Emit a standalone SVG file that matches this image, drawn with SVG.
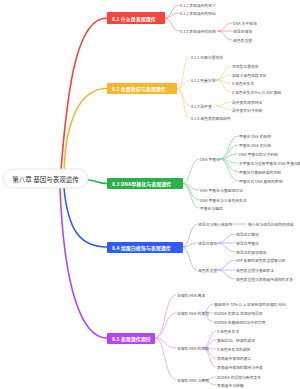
<svg xmlns="http://www.w3.org/2000/svg" width="300" height="389" viewBox="0 0 300 389">
<style>
.main{fill:none;stroke-width:1.6;stroke-linecap:round}
.sub{fill:none;stroke-width:0.8;stroke-linecap:round}
.nt{font-family:"Noto Sans CJK SC","Noto Sans",sans-serif;font-size:5px;font-weight:bold;fill:#fff;dominant-baseline:central}
.t{font-family:"Noto Sans CJK SC","Noto Sans",sans-serif;font-size:3.8px;fill:#555;dominant-baseline:central}
.root{font-family:"Noto Sans CJK SC","Noto Sans",sans-serif;font-size:6.5px;fill:#333;dominant-baseline:central}
.r{stroke:#f2453b}.o{stroke:#f8b62d}.g{stroke:#2ab049}.b{stroke:#2f5cf5}.p{stroke:#b247f0}
.rl{stroke:#f7968f}.ol{stroke:#fbd58a}.gl{stroke:#8fd99b}.bl{stroke:#9fb5fa}.pl{stroke:#dba5f7}
</style>
<g id="connectors">
<path class="main r" d="M61,170 C68,80 78,18 107,18"/>
<path class="main o" d="M64,170 C66,120 80,88.5 107,88.5"/>
<path class="main g" d="M88,180 C96,180 98,183.5 107,183.5"/>
<path class="main b" d="M64,188 C68,230 80,247 107,247"/>
<path class="main p" d="M60,188 C64,290 82,338 107,338"/>
<path class="sub rl" d="M165,18 C172,18 171,5 179,5"/>
<path class="sub rl" d="M165,18 C172,18 171,13 179,13"/>
<path class="sub rl" d="M165,18 C172,18 171,31 179,31"/>
<path class="sub rl" d="M218,31 C225,31 224,23 232,23"/>
<path class="sub rl" d="M218,31 L232,31"/>
<path class="sub rl" d="M218,31 C225,31 224,40 232,40"/>
<path class="sub ol" d="M177,88.5 C185,88.5 182,57 190,57"/>
<path class="sub ol" d="M177,88.5 C185,88.5 182,80 190,80"/>
<path class="sub ol" d="M177,88.5 C185,88.5 182,106 190,106"/>
<path class="sub ol" d="M177,88.5 C185,88.5 182,118 190,118"/>
<path class="sub ol" d="M216,80 C224,80 223,66 231,66"/>
<path class="sub ol" d="M216,80 C224,80 223,75 231,75"/>
<path class="sub ol" d="M216,80 C224,80 223,83 231,83"/>
<path class="sub ol" d="M216,80 C224,80 223,92 231,92"/>
<path class="sub ol" d="M216,106 C224,106 223,102 231,102"/>
<path class="sub ol" d="M216,106 C224,106 223,110 231,110"/>
<path class="sub gl" d="M183,183.5 C191,183.5 190,159 199,159"/>
<path class="sub gl" d="M183,183.5 C191,183.5 190,190 199,190"/>
<path class="sub gl" d="M183,183.5 C191,183.5 190,200 199,200"/>
<path class="sub gl" d="M183,183.5 C191,183.5 190,208 199,208"/>
<path class="sub gl" d="M220,159 C229,159 228,136 238,136"/>
<path class="sub gl" d="M220,159 C229,159 228,145 238,145"/>
<path class="sub gl" d="M220,159 C229,159 228,154 238,154"/>
<path class="sub gl" d="M220,159 C229,159 228,163 238,163"/>
<path class="sub gl" d="M220,159 C229,159 228,172 238,172"/>
<path class="sub gl" d="M220,159 C229,159 228,181 238,181"/>
<path class="sub bl" d="M183,247 C190,247 189,224 197,224"/>
<path class="sub bl" d="M183,247 C190,247 189,243 197,243"/>
<path class="sub bl" d="M183,247 C190,247 189,270 197,270"/>
<path class="sub bl" d="M231,224 L246,224"/>
<path class="sub bl" d="M218,243 C226,243 226,234 235,234"/>
<path class="sub bl" d="M218,243 L235,243"/>
<path class="sub bl" d="M218,243 C226,243 226,252 235,252"/>
<path class="sub bl" d="M218,270 C226,270 226,260 235,260"/>
<path class="sub bl" d="M218,270 L235,270"/>
<path class="sub bl" d="M218,270 C226,270 226,279 235,279"/>
<path class="sub pl" d="M155,338 C166,338 164,295 176,295"/>
<path class="sub pl" d="M155,338 C166,338 164,313 176,313"/>
<path class="sub pl" d="M155,338 C166,338 164,348 176,348"/>
<path class="sub pl" d="M155,338 C166,338 164,380 176,380"/>
<path class="sub pl" d="M203,313 C208,313 207,304 213,304"/>
<path class="sub pl" d="M203,313 L213,313"/>
<path class="sub pl" d="M203,313 C208,313 207,322 213,322"/>
<path class="sub pl" d="M203,348 C210,348 209,331 216,331"/>
<path class="sub pl" d="M203,348 C210,348 209,340 216,340"/>
<path class="sub pl" d="M203,348 C210,348 209,349 216,349"/>
<path class="sub pl" d="M203,348 C210,348 209,358 216,358"/>
<path class="sub pl" d="M203,348 C210,348 209,367 216,367"/>
<path class="sub pl" d="M203,380 C210,380 209,377 216,377"/>
<path class="sub pl" d="M203,380 C210,380 209,385 216,385"/>
</g>
<g id="root">
<rect x="3" y="169" width="85" height="19" rx="9.5" fill="#fff" stroke="#e2e2e2" stroke-width="0.8"/>
<text class="root" x="45.5" y="178.5" text-anchor="middle">第八章 基因与表观遗传</text>
</g>
<g id="n81">
<rect x="107" y="12" width="58" height="12" rx="1" fill="#f2453b"/>
<text class="nt" x="112" y="18">8.1 什么是表观遗传</text>
<text class="t" x="180" y="5">8.1.1 表观遗传的定义</text>
<text class="t" x="180" y="13">8.1.2 表观遗传的特征</text>
<text class="t" x="180" y="31">8.1.3 表观遗传的机制</text>
<text class="t" x="233" y="23">DNA 水平修饰</text>
<text class="t" x="233" y="31">组蛋白修饰</text>
<text class="t" x="233" y="40">染色质重塑</text>
</g>
<g id="n82">
<rect x="107" y="83" width="70" height="11" rx="1" fill="#f8b62d"/>
<text class="nt" x="112" y="88.5">8.2 位置效应与表观遗传</text>
<text class="t" x="191" y="57">8.2.1 经典位置效应</text>
<text class="t" x="191" y="80">8.2.2 剂量补偿</text>
<text class="t" x="191" y="106">8.2.3 副突变</text>
<text class="t" x="191" y="118">8.2.4 染色质的高级结构</text>
<text class="t" x="232" y="66">花斑型位置效应</text>
<text class="t" x="232" y="75">果蝇 X 染色体超活化</text>
<text class="t" x="232" y="83">X 染色体失活</text>
<text class="t" x="232" y="92">X 染色体失活中心与 Xist 基因</text>
<text class="t" x="232" y="102">副突变的现象特征</text>
<text class="t" x="232" y="110">副突变的分子机制</text>
</g>
<g id="n83">
<rect x="107" y="178" width="76" height="11" rx="1" fill="#2ab049"/>
<text class="nt" x="112" y="183.5">8.3 DNA甲基化与表观遗传</text>
<text class="t" x="200" y="159">DNA 甲基化</text>
<text class="t" x="200" y="190">DNA 甲基化与基因组印记</text>
<text class="t" x="200" y="200">DNA 甲基化与 X 染色体失活</text>
<text class="t" x="200" y="208">甲基化与癌症</text>
<text class="t" x="239" y="136">甲基化 DNA 的结构</text>
<text class="t" x="239" y="145">甲基化 DNA 的分布</text>
<text class="t" x="239" y="154">DNA 甲基化的分子机制</text>
<text class="t" x="239" y="163">去甲基化与重新甲基化 DNA 甲基化酶</text>
<text class="t" x="239" y="172">甲基化对基因转录的抑制</text>
<text class="t" x="239" y="181">甲基化对 DNA 复制的影响</text>
</g>
<g id="n84">
<rect x="107" y="242" width="76" height="11" rx="1" fill="#2f5cf5"/>
<text class="nt" x="112" y="247.5">8.4 组蛋白修饰与表观遗传</text>
<text class="t" x="198" y="224">组蛋白与核小体结构</text>
<text class="t" x="248" y="224">核小体与组蛋白结构的组成</text>
<text class="t" x="198" y="243">组蛋白修饰</text>
<text class="t" x="198" y="270">染色质重塑</text>
<text class="t" x="236" y="234">组蛋白乙酰化</text>
<text class="t" x="236" y="243">组蛋白甲基化</text>
<text class="t" x="236" y="252">组蛋白的其他修饰</text>
<text class="t" x="236" y="260">ATP 依赖的染色质重塑复合体</text>
<text class="t" x="236" y="270">染色质重塑与基因表达</text>
<text class="t" x="236" y="279">染色质重塑与表观遗传调控的关系</text>
</g>
<g id="n85">
<rect x="107" y="333" width="48" height="11" rx="1" fill="#b247f0"/>
<text class="nt" x="112" y="338.5">8.5 表观遗传调控</text>
<text class="t" x="177" y="295">非编码 RNA 概述</text>
<text class="t" x="177" y="313">非编码 RNA 的类型</text>
<text class="t" x="177" y="348">非编码 RNA 的功能</text>
<text class="t" x="177" y="380">非编码 RNA 与疾病</text>
<text class="t" x="214" y="304">基因组中 70% 以上 区域转录的非编码 RNA</text>
<text class="t" x="214" y="313">lncRNA 的表达 及组织特异性</text>
<text class="t" x="214" y="322">lncRNA 在基因组印记中的作用</text>
<text class="t" x="217" y="331">X 染色体失活</text>
<text class="t" x="217" y="340">基因印记、转录的调控</text>
<text class="t" x="217" y="349">X 染色体失活的调控</text>
<text class="t" x="217" y="358">表观遗传修饰的建立</text>
<text class="t" x="217" y="367">表观遗传修饰的维持与传递</text>
<text class="t" x="217" y="377">lncRNA 的异常与疾病发生</text>
<text class="t" x="217" y="385">表观遗传与肿瘤</text>
</g>
</svg>
